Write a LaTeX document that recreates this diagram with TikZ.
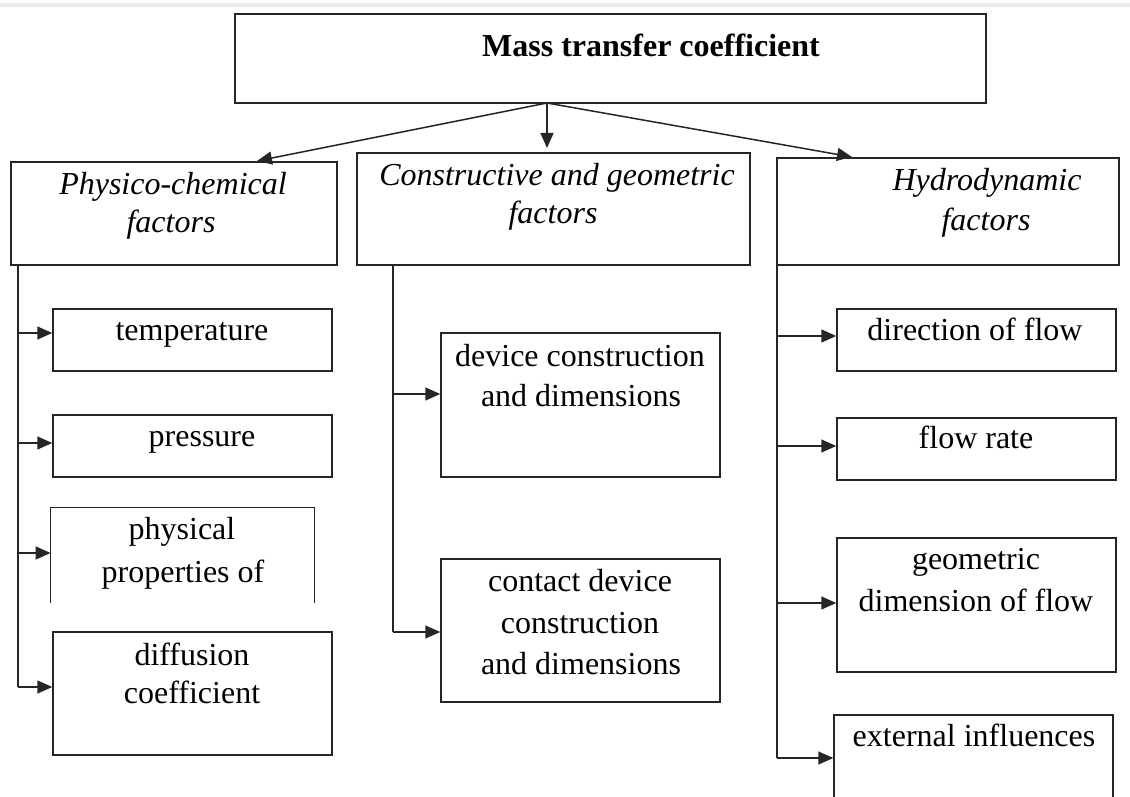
\documentclass[tikz,border=0pt]{standalone}
\usepackage{fontspec}
\setmainfont{Liberation Serif}
\usetikzlibrary{arrows.meta,fit}
\begin{document}
\begin{tikzpicture}[x=0.5pt,y=-0.5pt,
  box/.style={draw=black!85, line width=0.75pt, inner sep=0pt},
  openbox/.style={draw=none, inner sep=0pt},
  lbl/.style={inner sep=0pt, anchor=base, font=\fontsize{16pt}{19pt}\selectfont},
  hdr/.style={inner sep=0pt, anchor=base, font=\fontsize{16pt}{19pt}\selectfont\itshape},
  ttl/.style={inner sep=0pt, anchor=base, font=\fontsize{16pt}{19pt}\selectfont\bfseries},
  conn/.style={draw=black!85, line width=0.75pt},
  arr/.style={conn, -{Triangle[length=7.5pt,width=6.5pt]}}]
\useasboundingbox (0,0) rectangle (1130,797);
\clip (0,0) rectangle (1130,797);
\fill[gray!15] (0,3) rectangle (1130,7.5);

% top
\node[box, fit={(235,14)(986,103)}] (top) {};
\node[ttl] (ttop) at (651,57) {Mass transfer coefficient};

% headers
\node[box, fit={(11,162)(337,265)}] (h1) {};
\node[hdr] (h1a) at (173,194) {Physico-chemical};
\node[hdr] (h1b) at (171,232) {factors};
\node[box, fit={(357,153)(750,265)}] (h2) {};
\node[hdr] (h2a) at (557,185) {Constructive and geometric};
\node[hdr] (h2b) at (553,223) {factors};
\node[box, fit={(777,158)(1119,265)}] (h3) {};
\node[hdr] (h3a) at (987,191) {Hydrodynamic};
\node[hdr] (h3b) at (986,230) {factors};

\coordinate (src) at (547,103);
\coordinate (e1) at (257,161);
\coordinate (e2) at (547,148);
\coordinate (e3) at (852,157);
\draw[arr] (src) -- (e1);
\draw[arr] (src) -- (e2);
\draw[arr] (src) -- (e3);

% left column
\node[box, fit={(53,309)(332,371)}] (l1) {};
\node[lbl] (l1a) at (192,340) {temperature};
\node[box, fit={(53,415)(332,477)}] (l2) {};
\node[lbl] (l2a) at (202,446) {pressure};
\node[openbox, fit={(51,508)(314,603)}] (l3) {};
\draw[conn] (l3.south west) -- (l3.north west) -- (l3.north east) -- (l3.south east);
\node[lbl] (l3a) at (182,539) {physical};
\node[lbl] (l3b) at (183,582) {properties of};
\node[box, fit={(53,632)(332,755)}] (l4) {};
\node[lbl] (l4a) at (192,665) {diffusion};
\node[lbl] (l4b) at (192,703) {coefficient};

\coordinate (Lt) at (18,265);
\coordinate (La1) at (18,333);
\coordinate (La2) at (18,443);
\coordinate (La3) at (18,553);
\coordinate (La4) at (18,687);
\draw[conn] (Lt) -- (La4);
\draw[arr] (La1) -- (La1 -| l1.west);
\draw[arr] (La2) -- (La2 -| l2.west);
\draw[arr] (La3) -- (La3 -| l3.west);
\draw[arr] (La4) -- (La4 -| l4.west);

% middle column
\node[box, fit={(441,333)(720,477)}] (m1) {};
\node[lbl] (m1a) at (580,366) {device construction};
\node[lbl] (m1b) at (581,406) {and dimensions};
\node[box, fit={(441,559)(720,702)}] (m2) {};
\node[lbl] (m2a) at (580,591) {contact device};
\node[lbl] (m2b) at (580,633) {construction};
\node[lbl] (m2c) at (581,674) {and dimensions};

\coordinate (Mt) at (393,265);
\coordinate (Ma1) at (393,394);
\coordinate (Ma2) at (393,632);
\draw[conn] (Mt) -- (Ma2);
\draw[arr] (Ma1) -- (Ma1 -| m1.west);
\draw[arr] (Ma2) -- (Ma2 -| m2.west);

% right column
\node[box, fit={(837,309)(1116,371)}] (r1) {};
\node[lbl] (r1a) at (975,340) {direction of flow};
\node[box, fit={(837,418)(1116,480)}] (r2) {};
\node[lbl] (r2a) at (976,448) {flow rate};
\node[box, fit={(837,538)(1116,672)}] (r3) {};
\node[lbl] (r3a) at (976,569) {geometric};
\node[lbl] (r3b) at (976,611) {dimension of flow};
\node[box, fit={(834,715)(1113,830)}] (r4) {};
\node[lbl] (r4a) at (974,746) {external influences};

\coordinate (Rt) at (777,265);
\coordinate (Ra1) at (777,336);
\coordinate (Ra2) at (777,446);
\coordinate (Ra3) at (777,603);
\coordinate (Ra4) at (777,758);
\draw[conn] (Rt) -- (Ra4);
\draw[arr] (Ra1) -- (Ra1 -| r1.west);
\draw[arr] (Ra2) -- (Ra2 -| r2.west);
\draw[arr] (Ra3) -- (Ra3 -| r3.west);
\draw[arr] (Ra4) -- (Ra4 -| r4.west);
\end{tikzpicture}
\end{document}
